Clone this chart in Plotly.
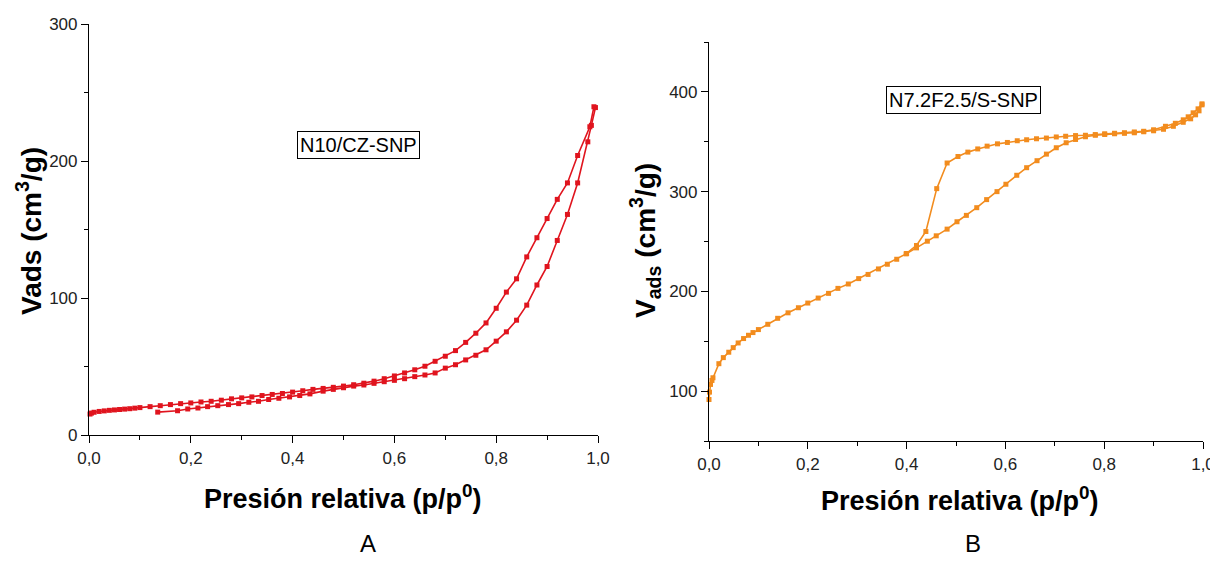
import plotly.graph_objects as go

# ---------------- Data: N10/CZ-SNP (panel A) ----------------
a_lower_x = [0.135, 0.174, 0.194, 0.214, 0.233, 0.253, 0.274, 0.294, 0.314, 0.333,
             0.353, 0.373, 0.394, 0.414, 0.434, 0.46, 0.48, 0.50, 0.52, 0.54,
             0.56, 0.58, 0.60, 0.62, 0.64, 0.66, 0.68, 0.70, 0.72, 0.74,
             0.76, 0.78, 0.80, 0.82, 0.84, 0.86, 0.88, 0.90, 0.92, 0.94,
             0.96, 0.98, 0.987, 0.995]
a_lower_y = [16.7, 17.7, 19.0, 19.7, 20.7, 21.4, 22.2, 22.9, 23.9, 24.6,
             25.9, 26.8, 27.8, 28.8, 30.0, 32.0, 33.3, 34.5, 35.7, 36.5,
             37.7, 38.9, 39.9, 41.1, 42.6, 43.8, 45.3, 48.8, 51.3, 54.8,
             58.2, 62.2, 68.5, 75.3, 83.8, 94.8, 109.5, 123, 142, 161,
             184, 214, 226, 239]

a_upper_x = [0.002, 0.005, 0.01, 0.02, 0.03, 0.04, 0.05, 0.06, 0.07, 0.08,
             0.09, 0.10, 0.12, 0.14, 0.16, 0.18, 0.20, 0.22, 0.24, 0.26,
             0.28, 0.30, 0.32, 0.34, 0.36, 0.38, 0.40, 0.42, 0.44, 0.46,
             0.48, 0.50, 0.52, 0.54, 0.56, 0.58, 0.60, 0.62, 0.64, 0.66,
             0.68, 0.70, 0.72, 0.74, 0.76, 0.78, 0.80, 0.82, 0.84, 0.86,
             0.88, 0.90, 0.92, 0.94, 0.96, 0.984, 0.992]
a_upper_y = [15.3, 16.0, 16.6, 17.2, 17.6, 18.0, 18.3, 18.6, 18.9, 19.2,
             19.6, 20.0, 20.7, 21.4, 22.2, 22.9, 23.4, 24.1, 24.6, 25.4,
             26.4, 27.1, 27.8, 28.8, 29.6, 30.3, 31.3, 32.3, 33.3, 34.0,
             34.8, 35.7, 36.7, 37.8, 39.3, 41.1, 43.1, 45.3, 47.6, 50.2,
             53.8, 57.5, 61.6, 67.6, 74.3, 81.8, 92.5, 104.3, 114, 130,
             144, 158, 172, 184, 204, 225, 239.6]

# ---------------- Data: N7.2F2.5/S-SNP (panel B) ----------------
b_lower_x = [0.0, 0.001, 0.003, 0.006, 0.008, 0.020, 0.029, 0.040, 0.049, 0.059,
             0.070, 0.080, 0.089, 0.100, 0.119, 0.139, 0.160, 0.181, 0.200, 0.221,
             0.242, 0.261, 0.282, 0.303, 0.322, 0.343, 0.361, 0.380, 0.399, 0.420,
             0.442, 0.460, 0.482, 0.502, 0.521, 0.542, 0.562, 0.583, 0.601, 0.623,
             0.643, 0.664, 0.683, 0.703, 0.723, 0.742, 0.762, 0.782, 0.801, 0.821,
             0.841, 0.861, 0.880, 0.900, 0.920, 0.940, 0.960, 0.975, 0.985, 0.992,
             0.998]
b_lower_y = [91.6, 99.0, 106.7, 110.7, 113.4, 127.5, 133.6, 139.0, 143.6, 148.3,
             152.7, 156.0, 158.7, 161.7, 167.0, 173.0, 178.5, 183.6, 188.3, 193.3,
             198.0, 203.0, 207.4, 212.8, 217.0, 222.5, 227.2, 232.2, 237.6, 243.6,
             250.3, 255.7, 262.4, 269.8, 276.2, 283.9, 292.0, 300.0, 307.4, 316.4,
             324.0, 331.0, 337.6, 344.0, 349.0, 352.3, 355.0, 356.5, 357.3, 358.0,
             358.5, 359.0, 360.0, 361.0, 362.5, 365.5, 369.5, 373.0, 377.0, 381.0,
             387.0]

b_upper_x = [0.998, 0.99, 0.98, 0.97, 0.96, 0.944, 0.924, 0.900, 0.880, 0.861,
             0.841, 0.821, 0.801, 0.782, 0.762, 0.742, 0.722, 0.703, 0.683, 0.663,
             0.643, 0.624, 0.604, 0.584, 0.563, 0.544, 0.524, 0.504, 0.482, 0.461,
             0.439, 0.420, 0.400]
b_upper_y = [388.0, 383.0, 379.0, 375.0, 372.0, 368.5, 365.5, 362.0, 360.5, 359.8,
             359.0, 358.5, 358.0, 357.2, 356.5, 356.2, 355.5, 354.8, 353.7, 353.0,
             352.0, 351.0, 349.3, 347.9, 345.6, 342.8, 339.6, 335.2, 328.7, 303.0,
             260.0, 246.0, 238.0]

x_ticks = [0.0, 0.2, 0.4, 0.6, 0.8, 1.0]
a_y_ticks = [0, 100, 200, 300]
b_y_ticks = [100, 200, 300, 400]

RED = "#e0141e"
ORANGE = "#f28c1e"
FONT = "Arial, Liberation Sans, sans-serif"
OFF = 8                      # page body margin in the browser
W, H = 1218 - OFF, 561 - OFF

fig = go.Figure()


def add(x, y, color, xa, ya):
    fig.add_trace(go.Scatter(
        x=x, y=y, mode="lines+markers", xaxis=xa, yaxis=ya,
        line=dict(color=color, width=1.6),
        marker=dict(symbol="square", size=5, color=color),
        showlegend=False, hoverinfo="x+y", cliponaxis=False))


add(a_lower_x, a_lower_y, RED, "x", "y")
add(a_upper_x, a_upper_y, RED, "x", "y")
add(b_lower_x, b_lower_y, ORANGE, "x2", "y2")
add(b_upper_x, b_upper_y, ORANGE, "x2", "y2")


def px_x(p):
    return (p - OFF) / W


def px_y(p):
    return 1 - (p - OFF) / H


axis_common = dict(
    showline=True, linecolor="black", linewidth=1.2, mirror=False,
    showgrid=False, zeroline=False, ticks="outside", ticklen=7,
    tickcolor="black", tickwidth=1.2, automargin=False,
    tickfont=dict(family=FONT, size=17, color="#222"),
)

xaxis_common = dict(axis_common, range=[0, 1.0], tickvals=x_ticks,
                    tickformat=".1f",
                    minor=dict(dtick=0.1, tick0=0, ticks="outside", ticklen=4,
                               tickcolor="black", tickwidth=1.2))

fig.update_layout(
    width=W, height=H,
    margin=dict(l=0, r=0, t=0, b=0, autoexpand=False),
    paper_bgcolor="white", plot_bgcolor="white",
    separators=",.",
    font=dict(family=FONT, color="black"),
    xaxis=dict(xaxis_common, domain=[px_x(89), px_x(598)], anchor="y"),
    yaxis=dict(axis_common, domain=[px_y(435), px_y(24)], anchor="x",
               range=[0, 300], tickvals=a_y_ticks,
               minor=dict(dtick=50, tick0=0, ticks="outside", ticklen=4,
                          tickcolor="black", tickwidth=1.2)),
    xaxis2=dict(xaxis_common, domain=[px_x(709), px_x(1203)], anchor="y2"),
    yaxis2=dict(axis_common, domain=[px_y(441), px_y(42)], anchor="x2",
                range=[50, 450], tickvals=b_y_ticks,
                minor=dict(dtick=50, tick0=0, ticks="outside", ticklen=4,
                           tickcolor="black", tickwidth=1.2)),
)


def text_at(text, x, y, size, angle=0, **kw):
    return dict(text=text, x=px_x(x), y=px_y(y), xref="paper", yref="paper",
                xanchor="center", yanchor="middle", showarrow=False,
                textangle=angle, font=dict(family=FONT, size=size, color="black"), **kw)


ann = [
    text_at("<b>Presión relativa (p/p<sup>0</sup>)</b>", 343, 497, 27),
    text_at("<b>Presión relativa (p/p<sup>0</sup>)</b>", 960, 499, 27),
    text_at("<b>Vads (cm<sup>3</sup>/g)</b>", 29, 231, 28, angle=-90),
    text_at("<b>V<sub>ads</sub> (cm<sup>3</sup>/g)</b>", 645, 241, 28, angle=-90),
    text_at("A", 368, 543, 24),
    text_at("B", 973, 543, 24),
    text_at("N10/CZ-SNP", 358, 145, 20, bordercolor="black", borderwidth=1,
            borderpad=2, bgcolor="white"),
    text_at("N7.2F2.5/S-SNP", 963, 100, 20, bordercolor="black", borderwidth=1,
            borderpad=2, bgcolor="white"),
]
fig.update_layout(annotations=ann)

fig.write_html("out.html")
